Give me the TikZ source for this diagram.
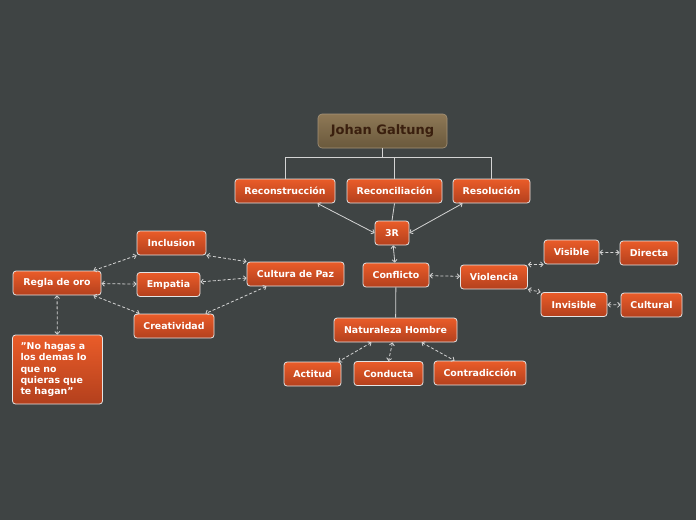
\documentclass[tikz,border=0pt]{standalone}
\usepackage{fontspec}
\setmainfont{DejaVu Sans}
\usetikzlibrary{arrows.meta}
\definecolor{bg}{HTML}{3F4444}
\definecolor{ntop}{HTML}{EA5C29}
\definecolor{nbot}{HTML}{B3401D}
\definecolor{nborder}{HTML}{E4E4E4}
\definecolor{rtop}{HTML}{8E7856}
\definecolor{rbot}{HTML}{6A593C}
\definecolor{rtext}{HTML}{3A1F0E}
\definecolor{conn}{HTML}{D4D4D4}
\tikzset{
  box/.style={draw=nborder, line width=0.8pt, rounded corners=3pt,
    top color=ntop, bottom color=nbot, text=white,
    font=\fontsize{9.4}{11}\selectfont\bfseries,
    minimum height=24pt, inner sep=1pt},
  rootbox/.style={draw=rtop!80!white, line width=0.6pt, rounded corners=4pt,
    top color=rtop, bottom color=rbot, text=rtext,
    font=\fontsize{13}{15}\selectfont\bfseries,
    minimum height=34pt, minimum width=129pt},
  link/.style={draw=conn, line width=0.8pt},
  biarrow/.style={link, arrows={Straight Barb[length=2.5pt,width=5pt]-Straight Barb[length=2.5pt,width=5pt]}},
  dlink/.style={biarrow, dash pattern=on 3pt off 2pt},
}
\begin{document}
\begin{tikzpicture}[x=1pt,y=-1pt]
\fill[bg] (0,0) rectangle (696,520);
\useasboundingbox (0,0) rectangle (696,520);

\node[rootbox] (root) at (382.5,131) {Johan Galtung};
\node[box, minimum width=100pt] (recons) at (285,191) {Reconstrucción};
\node[box, minimum width=95pt] (recon) at (394.5,191) {Reconciliación};
\node[box, minimum width=77pt] (resol) at (491.5,191) {Resolución};
\node[box, minimum width=34pt] (r3) at (392,233) {3R};
\node[box, minimum width=66pt] (confl) at (396,275) {Conflicto};
\node[box, minimum width=67pt] (viol) at (494,277) {Violencia};
\node[box, minimum width=55pt] (visib) at (571.5,252) {Visible};
\node[box, minimum width=58pt] (direc) at (649,253) {Directa};
\node[box, minimum width=66pt] (invis) at (574,304.5) {Invisible};
\node[box, minimum width=61pt] (cultu) at (651.5,305) {Cultural};
\node[box, minimum width=123pt] (natur) at (395.5,330) {Naturaleza Hombre};
\node[box, minimum width=57pt] (actit) at (312.5,374) {Actitud};
\node[box, minimum width=69pt] (condu) at (388.5,373.5) {Conducta};
\node[box, minimum width=92pt] (contr) at (480,373) {Contradicción};
\node[box, minimum width=97pt] (cpaz) at (295.5,274) {Cultura de Paz};
\node[box, minimum width=69pt] (inclu) at (171.5,243) {Inclusion};
\node[box, minimum width=63pt] (empat) at (168.5,284.5) {Empatia};
\node[box, minimum width=80pt] (creat) at (174,326) {Creatividad};
\node[box, minimum width=88pt] (regla) at (57,283) {Regla de oro};
\node[box, minimum height=69pt, text width=74pt, align=left, inner xsep=8pt, inner ysep=3pt,
  font=\fontsize{9.4}{11.3}\selectfont\bfseries] (quote) at (57.5,369.5)
  {"No hagas a\\los demas lo\\que no\\quieras que\\te hagan"};

% tree from root
\draw[link] (root.south) -- ++(0,9) coordinate (j);
\draw[link] (j) -| (recons.north);
\draw[link] (j) -| (resol.north);
\draw[link] (recon.north) -- (recon.north |- j);
\draw[link] (recon.south) -- (r3.north);
\path (recons.south east) ++(-18,0) coordinate (a1);
\draw[biarrow] (a1) -- (r3.west);
\path (resol.south west) ++(10,0) coordinate (a2);
\draw[biarrow] (a2) -- (r3.east);
\draw[biarrow] (r3) -- (confl);
\draw[link] (confl) -- (natur);
\draw[dlink] (confl) -- (viol);
\draw[dlink] (viol.north east) -- (visib.south west);
\draw[dlink] (viol.south east) -- (invis.north west);
\draw[dlink] (visib) -- (direc);
\draw[dlink] (invis) -- (cultu);
\path (natur.south) ++(-24,0) coordinate (n1);
\path (actit.north east) ++(-3,0) coordinate (t1);
\draw[dlink] (n1) -- (t1);
\path (natur.south) ++(-3,0) coordinate (n2);
\draw[dlink] (n2) -- (condu.north);
\path (natur.south) ++(26,0) coordinate (n3);
\path (contr.north west) ++(21,0) coordinate (t3);
\draw[dlink] (n3) -- (t3);
\draw[dlink] (cpaz.north west) -- (inclu.south east);
\draw[dlink] (cpaz) -- (empat);
\path (cpaz.south) ++(-29,0) coordinate (c1);
\path (creat.north east) ++(-9,0) coordinate (c2);
\draw[dlink] (c1) -- (c2);
\path (regla.north east) ++(-8,0) coordinate (g1);
\draw[dlink] (g1) -- (inclu.south west);
\draw[dlink] (regla) -- (empat);
\path (regla.south east) ++(-8,0) coordinate (g2);
\path (creat.north west) ++(6,0) coordinate (g3);
\draw[dlink] (g2) -- (g3);
\draw[dlink] (regla) -- (quote);
\end{tikzpicture}
\end{document}
